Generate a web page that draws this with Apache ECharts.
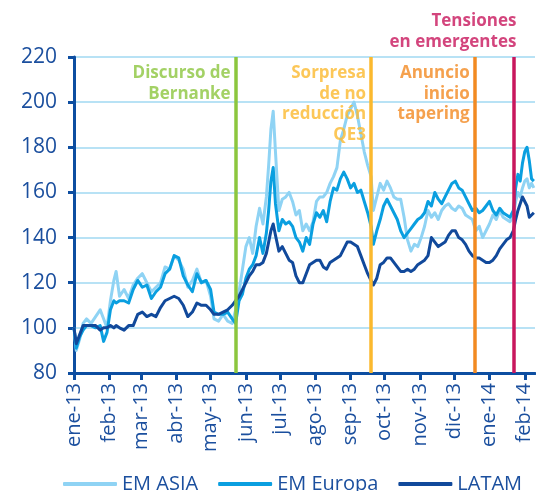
<!DOCTYPE html>
<html>
<head>
<meta charset="utf-8">
<script src="https://cdn.jsdelivr.net/npm/echarts@6/dist/echarts.min.js"></script>
<style>
html,body{margin:0;padding:0;background:#fff;}
#c{width:536px;height:491px;}
</style>
</head>
<body>
<div id="c"></div>
<script>
// ---------- DATA ----------
const dates = [
'2013-01-01','2013-01-03','2013-01-06','2013-01-09','2013-01-12','2013-01-16','2013-01-20','2013-01-24','2013-01-27','2013-01-30',
'2013-02-02','2013-02-05','2013-02-07','2013-02-10','2013-02-14','2013-02-18','2013-02-22','2013-02-26',
'2013-03-02','2013-03-06','2013-03-10','2013-03-14','2013-03-18','2013-03-22','2013-03-26','2013-03-30',
'2013-04-03','2013-04-07','2013-04-11','2013-04-15','2013-04-19','2013-04-23','2013-04-27',
'2013-05-01','2013-05-04','2013-05-08','2013-05-12','2013-05-16','2013-05-20','2013-05-23','2013-05-26','2013-05-29',
'2013-06-01','2013-06-04','2013-06-07','2013-06-10','2013-06-13','2013-06-16','2013-06-19','2013-06-21','2013-06-23','2013-06-25','2013-06-27','2013-06-30',
'2013-07-03','2013-07-06','2013-07-09','2013-07-12','2013-07-15','2013-07-18','2013-07-21','2013-07-24','2013-07-27','2013-07-30',
'2013-08-02','2013-08-05','2013-08-08','2013-08-11','2013-08-14','2013-08-17','2013-08-20','2013-08-23','2013-08-26','2013-08-29',
'2013-09-01','2013-09-04','2013-09-07','2013-09-10','2013-09-13','2013-09-16','2013-09-19','2013-09-21','2013-09-24','2013-09-27','2013-09-30',
'2013-10-03','2013-10-06','2013-10-09','2013-10-12','2013-10-15','2013-10-18','2013-10-21','2013-10-24','2013-10-27','2013-10-30',
'2013-11-02','2013-11-05','2013-11-08','2013-11-11','2013-11-14','2013-11-17','2013-11-20','2013-11-23','2013-11-26','2013-11-29',
'2013-12-02','2013-12-05','2013-12-08','2013-12-11','2013-12-14','2013-12-17','2013-12-20','2013-12-23','2013-12-26','2013-12-29',
'2014-01-01','2014-01-04','2014-01-07','2014-01-10','2014-01-13','2014-01-16','2014-01-19','2014-01-22','2014-01-24','2014-01-26','2014-01-28','2014-01-30',
'2014-02-01','2014-02-03','2014-02-05','2014-02-07','2014-02-09'
];

const emAsia = [
100, 90, 95, 102, 104, 102, 105, 108, 104, 100,
112, 121, 125, 114, 117, 113, 119, 122,
124, 120, 116, 118, 120, 127, 126, 132,
130, 126, 118, 121, 126, 120, 121,
114, 104, 103, 106, 103, 102, 108, 116, 126,
136, 140, 133, 145, 153, 146, 158, 172, 188, 196, 178, 152,
157, 158, 160, 156, 150, 152, 143, 146, 143, 147,
156, 158, 158, 160, 164, 167, 171, 183, 188, 194,
197, 200, 194, 186, 178, 172, 167, 152, 158, 164, 161,
165, 162, 158, 157, 157, 149, 139, 134, 137, 136,
140, 145, 152, 149, 151, 148, 152, 154, 155, 153,
152, 154, 153, 150, 149, 148, 143, 145, 140, 143,
146, 150, 148, 152, 149, 148, 147, 150, 156, 160, 158, 162,
165, 166, 162, 164, 162
];

const emEuropa = [
100, 91, 96, 99, 101, 101, 100, 101, 94, 98,
108, 112, 111, 112, 112, 111, 117, 121,
118, 119, 113, 116, 118, 124, 126, 132,
131, 123, 119, 116, 124, 120, 121,
117, 107, 106, 106, 107, 104, 102, 112, 115,
122, 126, 128, 132, 140, 133, 142, 152, 165, 171, 155, 143,
148, 146, 147, 145, 140, 138, 134, 140, 137, 146,
151, 149, 152, 147, 156, 162, 161, 166, 169, 166,
162, 164, 160, 161, 156, 151, 145, 137, 143, 148, 154,
157, 154, 151, 148, 143, 140, 142, 144, 146, 148,
149, 151, 156, 154, 160, 157, 155, 158, 161, 164,
165, 162, 161, 158, 155, 152, 153, 151, 152, 154,
156, 152, 150, 153, 151, 150, 149, 152, 162, 168, 165, 173,
178, 180, 174, 166, 165
];

const latam = [
100, 93, 97, 101, 101, 101, 101, 99, 100, 100,
101, 100, 101, 100, 99, 101, 101, 106,
107, 105, 106, 105, 109, 112, 113, 114,
113, 110, 105, 107, 111, 110, 110,
108, 106, 106, 107, 108, 110, 112, 114, 117,
120, 123, 125, 128, 128, 129, 133, 138, 143, 146, 141, 134,
136, 133, 130, 129, 123, 120, 120, 124, 128, 129,
130, 130, 127, 126, 129, 130, 131, 132, 135, 138,
138, 137, 136, 132, 128, 124, 121, 119, 122, 128, 129,
131, 131, 129, 127, 125, 125, 126, 125, 126, 128,
129, 130, 132, 140, 138, 136, 137, 138, 141, 143,
143, 140, 139, 137, 134, 132, 131, 131, 130, 129,
129, 130, 132, 135, 137, 139, 140, 143, 148, 152, 155, 158,
156, 154, 149, 150, 151
];

const seriesNames = ['EM ASIA', 'EM Europa', 'LATAM'];

const monthStarts = ['2013-01-01','2013-02-01','2013-03-01','2013-04-01','2013-05-01','2013-06-01','2013-07-01',
  '2013-08-01','2013-09-01','2013-10-01','2013-11-01','2013-12-01','2014-01-01','2014-02-01'];
const monthLabels = ['ene-13','feb-13','mar-13','abr-13','may-13','jun-13','jul-13',
  'ago-13','sep-13','oct-13','nov-13','dic-13','ene-14','feb-14'];

const yTicks = [80, 100, 120, 140, 160, 180, 200, 220];

const eventDates = ['2013-05-23', '2013-09-19', '2013-12-19', '2014-01-22'];
const eventLabels = ['Discurso de\nBernanke', 'Sorpresa\nde no\nreducción\nQE3', 'Anuncio\ninicio\ntapering', 'Tensiones\nen emergentes'];

// ---------- STYLE ----------
const seriesColours = ['#8fd3f4', '#0a9fe0', '#11499b'];
const eventColours = ['#8cc63e', '#fbb92e', '#f28a22', '#c8175d'];
const axisBlue = '#0d4ea1';
const textBlue = '#1b4f9e';
const gridBlue = '#b8e2f5';
const FONT = '"Open Sans", "Noto Sans", sans-serif';

const toTs = s => Date.parse(s + 'T00:00:00Z');
const monthTs = monthStarts.map(toTs);

function pairs(vals) { return dates.map((d, i) => [toTs(d), vals[i]]); }

const chart = echarts.init(document.getElementById('c'), null, {renderer: 'canvas'});

const lineSeries = [emAsia, emEuropa, latam].map((vals, i) => ({
  name: seriesNames[i],
  type: 'line',
  data: pairs(vals),
  showSymbol: false,
  symbol: 'none',
  color: seriesColours[i],
  lineStyle: {width: 3, color: seriesColours[i], join: 'round'},
  z: 2 + i,
  animation: false
}));

const eventSeries = {
  name: 'events',
  type: 'scatter',
  symbolSize: 0,
  clip: false,
  silent: true,
  z: 10,
  animation: false,
  data: eventDates.map((d, i) => ({
    value: [toTs(d), 220],
    label: {
      show: true,
      formatter: eventLabels[i],
      color: eventColours[i],
      fontFamily: FONT,
      fontWeight: 'bold',
      fontSize: 17,
      lineHeight: 20.5,
      align: 'right',
      verticalAlign: 'top',
      position: i === 3 ? [3, -46] : [-5, 6]
    }
  })),
  markLine: {
    silent: true,
    symbol: ['none', 'none'],
    animation: false,
    label: {show: false},
    lineStyle: {width: 3.5, type: 'solid'},
    data: eventDates.map((d, i) => ({xAxis: toTs(d), lineStyle: {color: eventColours[i], width: 3.5, type: 'solid'}}))
  }
};

chart.setOption({
  backgroundColor: '#ffffff',
  animation: false,
  grid: {left: 74, right: 1, top: 57, bottom: 118, containLabel: false},
  legend: {
    data: seriesNames,
    left: 58,
    top: 469,
    icon: 'roundRect',
    itemWidth: 54,
    itemHeight: 4,
    itemGap: 20,
    textStyle: {color: textBlue, fontFamily: FONT, fontSize: 20}
  },
  xAxis: {
    type: 'value',
    min: toTs('2013-01-01'),
    max: toTs('2014-02-10'),
    axisLine: {show: true, lineStyle: {color: axisBlue, width: 3}},
    axisTick: {show: true, length: 7, lineStyle: {color: axisBlue, width: 3}, customValues: monthTs},
    axisLabel: {
      customValues: monthTs,
      rotate: 90,
      margin: 10,
      color: textBlue,
      fontFamily: FONT,
      fontSize: 20,
      formatter: v => {
        const i = monthTs.findIndex(t => Math.abs(t - v) < 43200000);
        return i >= 0 ? monthLabels[i] : '';
      }
    },
    splitLine: {show: false}
  },
  yAxis: {
    type: 'value',
    min: yTicks[0],
    max: yTicks[yTicks.length - 1],
    interval: 20,
    axisLine: {show: true, lineStyle: {color: axisBlue, width: 3}},
    axisTick: {show: true, length: 6, lineStyle: {color: axisBlue, width: 3}},
    axisLabel: {color: textBlue, fontFamily: FONT, fontSize: 21, margin: 17},
    splitLine: {show: true, lineStyle: {color: gridBlue, width: 2}}
  },
  series: [...lineSeries, eventSeries]
});
</script>
</body>
</html>
